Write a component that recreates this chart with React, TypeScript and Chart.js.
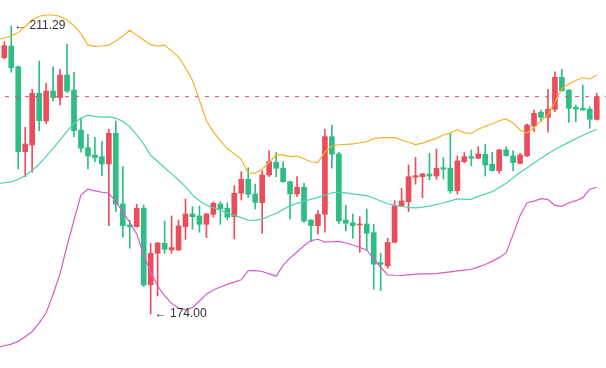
import React, { useEffect, useRef } from "react";
import { Chart, registerables } from "chart.js";

Chart.register(...registerables);

// OHLC candles (index 0..85)
const opens = [
  207.19, 208.70, 206.02, 195.02, 195.88, 202.58, 198.99, 202.87, 202.01, 204.95,
  203.00, 197.82, 195.53, 194.59, 194.37, 193.42, 197.40, 188.24, 185.52, 185.30,
  187.69, 177.76, 181.86, 183.15, 182.29, 182.29, 185.30, 186.95, 186.69, 185.61,
  186.91, 188.24, 187.69, 186.60, 189.63, 191.44, 189.54, 188.41, 192.00, 193.64,
  192.87, 191.13, 189.54, 190.41, 186.17, 185.43, 186.91, 196.96, 194.72, 186.17,
  185.82, 185.52, 185.65, 184.53, 180.64, 180.22, 183.28, 188.02, 188.54, 191.70,
  191.78, 192.13, 191.87, 192.94, 192.87, 189.97, 193.72, 194.37, 194.16, 194.68,
  193.38, 192.56, 195.24, 194.46, 193.51, 194.46, 198.34, 200.12, 199.47, 200.51,
  204.65, 203.00, 200.76, 200.63, 200.54, 199.21,
];
const highs = [
  209.26, 211.29, 206.10, 198.17, 203.09, 206.76, 203.87, 206.02, 205.68, 208.96,
  205.30, 199.34, 197.27, 196.88, 196.31, 197.92, 198.99, 193.07, 186.17, 188.20,
  188.11, 183.15, 183.25, 186.04, 186.69, 186.17, 188.89, 187.89, 187.98, 187.00,
  188.54, 188.54, 188.41, 190.61, 192.43, 192.94, 190.83, 192.56, 195.14, 194.89,
  193.72, 191.20, 191.78, 190.92, 186.20, 187.38, 197.92, 198.43, 194.94, 188.11,
  186.95, 186.60, 187.60, 185.61, 181.86, 183.80, 188.67, 190.28, 193.29, 194.29,
  192.20, 194.81, 195.36, 194.24, 197.40, 194.46, 194.89, 195.24, 195.66, 195.97,
  194.94, 195.33, 195.66, 195.11, 194.81, 198.60, 200.41, 200.41, 203.09, 205.37,
  205.68, 203.05, 201.06, 203.65, 200.84, 202.58,
];
const lows = [
  207.02, 205.30, 192.78, 191.78, 192.35, 197.70, 198.69, 201.58, 201.06, 202.65,
  196.96, 194.94, 192.78, 193.72, 191.91, 185.43, 187.25, 183.93, 182.51, 185.23,
  177.54, 174.00, 176.33, 181.86, 181.86, 182.20, 183.67, 184.97, 184.58, 183.88,
  186.52, 185.61, 186.17, 183.71, 188.76, 189.06, 187.60, 184.45, 191.78, 191.78,
  191.05, 186.26, 189.19, 185.87, 183.36, 184.32, 184.58, 192.87, 185.74, 184.75,
  183.80, 181.99, 182.29, 177.20, 177.02, 179.92, 183.20, 187.95, 187.25, 190.79,
  189.06, 191.35, 191.44, 191.48, 189.63, 189.54, 193.59, 193.20, 194.10, 191.87,
  192.50, 192.22, 194.45, 192.56, 193.42, 194.37, 197.61, 198.90, 197.53, 200.19,
  202.85, 198.82, 198.90, 200.38, 198.05, 199.12,
];
const closes = [
  208.74, 205.89, 195.02, 196.01, 202.58, 199.03, 202.87, 202.01, 204.95, 202.87,
  197.73, 195.46, 194.46, 194.24, 193.42, 197.40, 188.20, 185.43, 185.30, 187.69,
  177.76, 181.86, 183.19, 182.38, 182.59, 185.40, 186.95, 186.60, 185.61, 186.95,
  188.33, 187.60, 186.52, 189.63, 191.44, 189.50, 188.46, 192.00, 193.72, 192.87,
  191.13, 189.54, 190.41, 186.04, 185.43, 186.91, 196.96, 194.68, 186.04, 185.74,
  185.43, 185.65, 184.45, 180.44, 180.44, 183.28, 188.02, 188.63, 191.78, 191.91,
  192.13, 191.87, 192.87, 192.74, 189.93, 193.81, 194.37, 194.16, 194.72, 193.29,
  192.56, 195.24, 194.50, 193.59, 194.59, 198.47, 199.99, 199.47, 200.51, 204.65,
  202.91, 200.63, 200.54, 200.41, 199.21, 202.14,
];

// Bollinger bands, read at candle indices starting one candle before the first one
const bandStart = -1;
const upperBand = [
  209.53, 209.74, 209.99, 210.44, 211.23, 212.06, 212.56, 212.72, 212.72, 212.55,
  212.08, 211.33, 210.30, 208.81, 208.65, 208.70, 208.82, 209.34, 210.00, 210.75,
  210.08, 209.49, 208.87, 208.69, 208.82, 208.07, 207.27, 205.89, 204.24, 201.67,
  199.02, 197.59, 196.41, 195.42, 194.73, 194.03, 192.22, 192.23, 192.77, 193.62,
  194.59, 194.59, 194.37, 194.45, 194.10, 193.71, 193.59, 194.99, 195.74, 195.91,
  195.95, 196.03, 196.17, 196.31, 196.67, 196.83, 196.83, 196.83, 196.53, 196.23,
  195.93, 196.13, 196.44, 196.74, 197.18, 197.42, 197.88, 197.45, 197.37, 197.92,
  198.30, 198.64, 199.02, 199.26, 198.72, 197.83, 197.44, 198.14, 199.03, 199.78,
  201.46, 203.19, 203.80, 204.24, 204.62, 204.43, 204.95,
];
const middleBand = [
  190.88, 190.99, 191.10, 191.45, 191.89, 192.62, 193.42, 194.41, 195.43, 196.54,
  197.66, 198.71, 199.37, 199.74, 199.60, 199.48, 199.53, 199.37, 198.94, 198.24,
  197.23, 196.00, 194.55, 193.75, 192.93, 192.14, 191.35, 190.50, 189.43, 188.66,
  188.09, 187.75, 187.41, 187.08, 186.77, 186.47, 186.16, 186.13, 186.29, 186.69,
  187.01, 187.52, 188.02, 188.32, 188.62, 188.83, 189.10, 189.38, 189.69, 189.76,
  189.67, 189.55, 189.43, 189.32, 188.98, 188.63, 188.27, 188.06, 187.92, 187.80,
  187.75, 187.84, 187.97, 188.18, 188.37, 188.64, 188.89, 188.83, 188.84, 189.23,
  189.54, 189.84, 190.37, 190.94, 191.64, 192.31, 192.94, 193.55, 194.16, 194.74,
  195.31, 195.79, 196.25, 196.69, 197.14, 197.54, 197.92,
];
const lowerBand = [
  169.70, 169.88, 170.09, 170.45, 171.04, 171.73, 172.82, 174.15, 176.52, 179.23,
  182.80, 186.16, 189.42, 190.16, 189.94, 189.76, 189.67, 188.53, 187.23, 185.85,
  184.36, 181.64, 179.44, 177.62, 176.33, 175.37, 174.76, 174.58, 174.81, 175.67,
  176.56, 177.11, 177.49, 177.83, 178.13, 178.43, 179.60, 179.60, 179.50, 179.19,
  178.89, 180.30, 181.26, 182.03, 182.84, 183.50, 183.67, 183.30, 183.35, 183.40,
  183.19, 182.93, 182.61, 182.29, 181.17, 180.05, 179.07, 179.01, 178.98, 179.07,
  179.16, 179.18, 179.18, 179.23, 179.35, 179.45, 179.57, 179.67, 179.79, 180.07,
  180.41, 180.84, 181.29, 181.94, 184.29, 186.75, 188.41, 188.62, 188.94, 188.81,
  188.07, 187.94, 188.40, 188.67, 189.06, 190.16, 190.41,
];

const UP = "#eb4d5c";
const DOWN = "#2ebd85";
const X_MIN = -0.617;
const X_MAX = 86.327;
const Y_MIN = 167.0;
const Y_MAX = 214.66;

const extremeLabels = {
  id: "extremeLabels",
  afterDatasetsDraw(chart: any) {
    const { ctx } = chart;
    const xs = chart.scales.x;
    const ys = chart.scales.y;
    let hi = 0;
    let lo = 0;
    highs.forEach((v, i) => { if (v > highs[hi]) hi = i; });
    lows.forEach((v, i) => { if (v < lows[lo]) lo = i; });
    ctx.save();
    ctx.font = '12px "Liberation Sans", Arial, sans-serif';
    ctx.fillStyle = "#333";
    ctx.textAlign = "left";
    ctx.textBaseline = "middle";
    ctx.fillText("\u2190 " + highs[hi].toFixed(2), xs.getPixelForValue(hi) + 3, ys.getPixelForValue(highs[hi]));
    ctx.fillText("\u2190 " + lows[lo].toFixed(2), xs.getPixelForValue(lo) + 4, ys.getPixelForValue(lows[lo]));
    ctx.restore();
  },
};

export default function App() {
  const ref = useRef<HTMLCanvasElement | null>(null);

  useEffect(() => {
    if (!ref.current) return;
    const colors = closes.map((c, i) => (c >= opens[i] ? UP : DOWN));
    const band = (arr: number[]) => arr.map((v, i) => ({ x: i + bandStart, y: v }));
    const last = closes[closes.length - 1];
    const chart = new Chart(ref.current, {
      type: "bar",
      data: {
        datasets: [
          {
            type: "line",
            label: "upper",
            data: band(upperBand),
            borderColor: "#f5b12a",
            borderWidth: 1.2,
            pointRadius: 0,
            fill: false,
            order: 0,
          } as any,
          {
            type: "line",
            label: "middle",
            data: band(middleBand),
            borderColor: "#4fd3ad",
            borderWidth: 1.2,
            pointRadius: 0,
            fill: false,
            order: 0,
          } as any,
          {
            type: "line",
            label: "lower",
            data: band(lowerBand),
            borderColor: "#d95bc6",
            borderWidth: 1.2,
            pointRadius: 0,
            fill: false,
            order: 0,
          } as any,
          {
            type: "line",
            label: "last",
            data: [{ x: X_MIN, y: last }, { x: X_MAX, y: last }],
            borderColor: "#e0536c",
            borderWidth: 1,
            borderDash: [4, 6],
            borderDashOffset: 5,
            pointRadius: 0,
            fill: false,
            order: 0,
          } as any,
          {
            type: "bar",
            label: "body",
            data: opens.map((o, i) => ({ x: i, y: [o, closes[i]] })),
            backgroundColor: colors,
            borderWidth: 0,
            barThickness: 5,
            minBarLength: 1,
            grouped: false,
            order: 1,
          } as any,
          {
            type: "bar",
            label: "wick",
            data: lows.map((l, i) => ({ x: i, y: [l, highs[i]] })),
            backgroundColor: colors,
            borderWidth: 0,
            barThickness: 1,
            grouped: false,
            order: 2,
          } as any,
        ],
      },
      options: {
        responsive: false,
        animation: false,
        maintainAspectRatio: false,
        layout: { padding: 0 },
        plugins: {
          legend: { display: false },
          tooltip: { enabled: false },
          title: { display: false },
        },
        scales: {
          x: { type: "linear", min: X_MIN, max: X_MAX, display: false, offset: false },
          y: { type: "linear", min: Y_MIN, max: Y_MAX, display: false },
        },
      } as any,
      plugins: [extremeLabels],
    });
    return () => chart.destroy();
  }, []);

  return (
    <div style={{ position: "fixed", left: 0, top: 0, width: 606, height: 368, background: "#fff" }}>
      <canvas ref={ref} width={606} height={368} style={{ display: "block", width: 606, height: 368 }} />
    </div>
  );
}
